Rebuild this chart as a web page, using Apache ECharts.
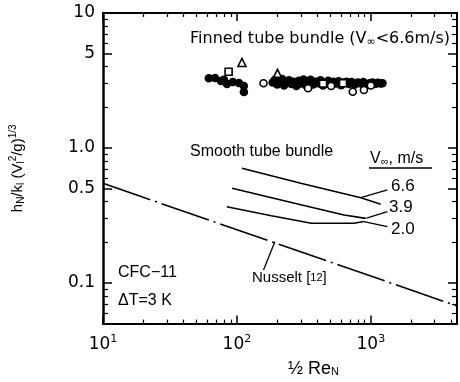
<!DOCTYPE html>
<html><head><meta charset="utf-8">
<script src="https://cdn.jsdelivr.net/npm/echarts@6/dist/echarts.min.js"></script>
<style>html,body{margin:0;padding:0;background:#fff}#c{width:460px;height:382px}</style>
</head><body><div id="c"></div>
<script>
// ---- axis ticks / labels ----
const xMajorTicks = [10, 100, 1000];
const xMinorTicks = [20,30,40,50,60,70,80,90,200,300,400,500,600,700,800,900,2000,3000,4000];
const xTickExponents = ['1', '2', '3'];
const yMajorTicks = [0.1, 0.5, 1, 5, 10];
const yMinorTicks = [0.06,0.07,0.08,0.09,0.2,0.3,0.4,0.6,0.7,0.8,0.9,2,3,4,6,7,8,9];
const yTickLabels = ['0.1', '0.5', '1.0', '5', '10'];

// ---- data (x = 1/2 Re_N, y = h_N/k_l (V_l^2/g)^(1/3)) ----
const nusseltLine = [[10, 0.547], [4400, 0.0676]];
const nusseltLeader = [[192, 0.202], [158, 0.125]];
const smooth66 = [[109, 0.707], [300, 0.548], [843, 0.428], [1186, 0.383]];
const smooth39 = [[92, 0.503], [300, 0.380], [631, 0.319], [918, 0.301]];
const smooth20 = [[84, 0.367], [181, 0.315], [359, 0.277], [748, 0.277], [887, 0.285]];
const leader66 = [[843, 0.428], [1330, 0.489]];
const leader39 = [[930, 0.302], [1330, 0.337]];
const leader20 = [[887, 0.285], [1330, 0.261]];
const finnedFilled = [
  [61.7,3.28],[68.7,3.30],[76,3.13],[80,3.2],[84.3,2.98],[93.3,3.08],[103.5,3.03],[112.7,2.88],[112.7,2.60],
  [185,3.05],[192,3.2],[200,2.95],[210,3.1],[218,3.25],[225,2.9],[235,3.05],[245,3.18],[255,2.98],[265,3.1],
  [278,2.88],[290,3.15],[300,3.0],[315,3.22],[328,2.92],[340,3.08],[355,3.2],[370,2.95],[385,3.1],[400,3.02],
  [420,3.18],[440,2.9],[460,3.05],[480,3.15],[500,2.95],[525,3.1],[550,3.0],[575,3.12],[600,2.92],[630,3.05],
  [660,3.1],[690,2.98],[720,3.08],[760,2.95],[800,3.05],[840,3.0],[880,3.08],[930,2.95],[980,3.02],[1030,3.06],
  [1080,2.98],[1130,3.04],[1180,3.0],[1222,3.02]
];
const finnedOpenCircle = [[158,3.02],[340,2.77],[733,2.61],[888,2.69],[1000,2.9],[505,2.88]];
const finnedSquare = [[86.7,3.67],[440,3.0],[620,3.02]];
const finnedTriangle = [[109,4.3],[201,3.57]];

const FONT = '"DejaVu Sans", sans-serif';
const FONT2 = '"Liberation Sans", Arial, sans-serif';
const chart = echarts.init(document.getElementById('c'), null, {renderer: 'canvas'});

const axBase = (extra) => Object.assign({
  type: 'log', logBase: 10, gridIndex: 0,
  splitLine: {show: false}, minorTick: {show: false}
}, extra);

const xAxes = [
  axBase({min: 10, max: 4400, position: 'bottom',
    axisLine: {show: true, onZero: false, lineStyle: {color: '#000', width: 2}},
    axisTick: {show: true, inside: true, length: 8, customValues: xMajorTicks, lineStyle: {color: '#000', width: 1.5}},
    axisLabel: {show: true, customValues: xMajorTicks, margin: 10, color: '#000', fontFamily: FONT, fontSize: 17,
      formatter: (v) => '10{s|' + xTickExponents[xMajorTicks.findIndex(t => Math.abs(t - v) / t < 1e-6)] + '}',
      rich: {s: {fontSize: 11, fontFamily: FONT, color: '#000', padding: [0, 0, 10, 0]}}}
  }),
  axBase({min: 10, max: 4400, position: 'bottom',
    axisLine: {show: false, onZero: false},
    axisTick: {show: true, inside: true, length: 4, customValues: xMinorTicks, lineStyle: {color: '#000', width: 1.2}},
    axisLabel: {show: false}
  }),
  axBase({min: 10, max: 4400, position: 'top',
    axisLine: {show: true, onZero: false, lineStyle: {color: '#000', width: 2}},
    axisTick: {show: true, inside: true, length: 8, customValues: xMajorTicks, lineStyle: {color: '#000', width: 1.5}},
    axisLabel: {show: false}
  }),
  axBase({min: 10, max: 4400, position: 'top',
    axisLine: {show: false, onZero: false},
    axisTick: {show: true, inside: true, length: 4, customValues: xMinorTicks, lineStyle: {color: '#000', width: 1.2}},
    axisLabel: {show: false}
  })
];

const yAxes = [
  axBase({min: 0.05, max: 10, position: 'left',
    axisLine: {show: true, onZero: false, lineStyle: {color: '#000', width: 2.5}},
    axisTick: {show: true, inside: true, length: 9, customValues: yMajorTicks, lineStyle: {color: '#000', width: 1.5}},
    axisLabel: {show: true, customValues: yMajorTicks, margin: 8, color: '#000', fontFamily: FONT, fontSize: 17,
      formatter: (v) => yTickLabels[yMajorTicks.findIndex(t => Math.abs(t - v) / t < 1e-6)]},
    name: 'h{sub|N}/k{sub|l} (V{sub|l}{sup|2}/g){sup|1/3}',
    nameLocation: 'middle', nameRotate: 90, nameGap: 76,
    nameTextStyle: {color: '#000', fontFamily: FONT2, fontSize: 15,
      rich: {sub: {fontSize: 10, fontFamily: FONT2, color: '#000', padding: [7, 0, 0, 0]},
             sup: {fontSize: 10, fontFamily: FONT2, color: '#000', padding: [0, 0, 9, 0]}}}
  }),
  axBase({min: 0.05, max: 10, position: 'left',
    axisLine: {show: false, onZero: false},
    axisTick: {show: true, inside: true, length: 5, customValues: yMinorTicks, lineStyle: {color: '#000', width: 1.2}},
    axisLabel: {show: false}
  }),
  axBase({min: 0.05, max: 10, position: 'right',
    axisLine: {show: true, onZero: false, lineStyle: {color: '#000', width: 2}},
    axisTick: {show: true, inside: true, length: 9, customValues: yMajorTicks, lineStyle: {color: '#000', width: 1.5}},
    axisLabel: {show: false}
  }),
  axBase({min: 0.05, max: 10, position: 'right',
    axisLine: {show: false, onZero: false},
    axisTick: {show: true, inside: true, length: 5, customValues: yMinorTicks, lineStyle: {color: '#000', width: 1.2}},
    axisLabel: {show: false}
  })
];

const lineSeries = (data, style) => ({
  type: 'line', xAxisIndex: 0, yAxisIndex: 0, data: data, symbol: 'none', silent: true,
  lineStyle: Object.assign({color: '#000', width: 1.4}, style), animation: false
});

const txt = (x, y, text, size, family, rich, extra) => ({
  type: 'text', x: x, y: y, silent: true,
  style: Object.assign({text: text, fill: '#000', font: size + 'px ' + family, fontSize: size, fontFamily: family,
    align: 'left', verticalAlign: 'middle', textAlign: 'left', textVerticalAlign: 'middle', rich: rich || {}}, extra || {})
});
const subR = (fam) => ({sub: {fontSize: 11, fontFamily: fam, fill: '#000', color: '#000', padding: [6, 0, 0, 0]},
                        sm: {fontSize: 11, fontFamily: fam, fill: '#000', color: '#000'}});

chart.setOption({
  animation: false,
  backgroundColor: '#fff',
  grid: {left: 100, right: 3, top: 13, bottom: 58.4, containLabel: false},
  xAxis: xAxes,
  yAxis: yAxes,
  series: [
    lineSeries(nusseltLine, {type: [50, 5, 2, 5], width: 1.6}),
    lineSeries(nusseltLeader, {width: 1.3}),
    lineSeries(smooth66, {width: 1.6}),
    lineSeries(smooth39, {width: 1.6}),
    lineSeries(smooth20, {width: 1.6}),
    lineSeries(leader66, {width: 1.3}),
    lineSeries(leader39, {width: 1.3}),
    lineSeries(leader20, {width: 1.3}),
    {type: 'scatter', data: finnedFilled, symbol: 'circle', symbolSize: 8.5, silent: true,
      itemStyle: {color: '#000', opacity: 1}},
    {type: 'scatter', data: finnedOpenCircle, symbol: 'circle', symbolSize: 7, silent: true,
      itemStyle: {color: '#fff', borderColor: '#000', borderWidth: 1.6, opacity: 1}},
    {type: 'scatter', data: finnedSquare, symbol: 'rect', symbolSize: 7, silent: true,
      itemStyle: {color: '#fff', borderColor: '#000', borderWidth: 1.6, opacity: 1}},
    {type: 'scatter', data: finnedTriangle, symbol: 'triangle', symbolSize: 8, silent: true,
      itemStyle: {color: '#fff', borderColor: '#000', borderWidth: 1.6, opacity: 1}}
  ],
  graphic: [
    txt(190, 39, 'Finned tube bundle (V{sub|∞}<6.6m/s)', 16, FONT, subR(FONT)),
    txt(190, 152, 'Smooth tube bundle', 16, FONT2),
    txt(370, 159, 'V{sub|∞}, m/s', 16, FONT2, subR(FONT2)),
    {type: 'line', silent: true, shape: {x1: 369, y1: 168, x2: 432, y2: 168}, style: {stroke: '#000', lineWidth: 1.5}},
    txt(391, 186, '6.6', 17, FONT2),
    txt(389, 207, '3.9', 17, FONT2),
    txt(391, 229, '2.0', 17, FONT2),
    txt(252, 278, 'Nusselt [{sm|12}]', 15, FONT2, subR(FONT2)),
    txt(118, 273, 'CFC−11', 16, FONT2),
    txt(118, 301, 'ΔT=3 K', 16, FONT2),
    txt(288, 369, '½ Re{sub|N}', 18, FONT2, subR(FONT2))
  ]
});
</script>
</body></html>
